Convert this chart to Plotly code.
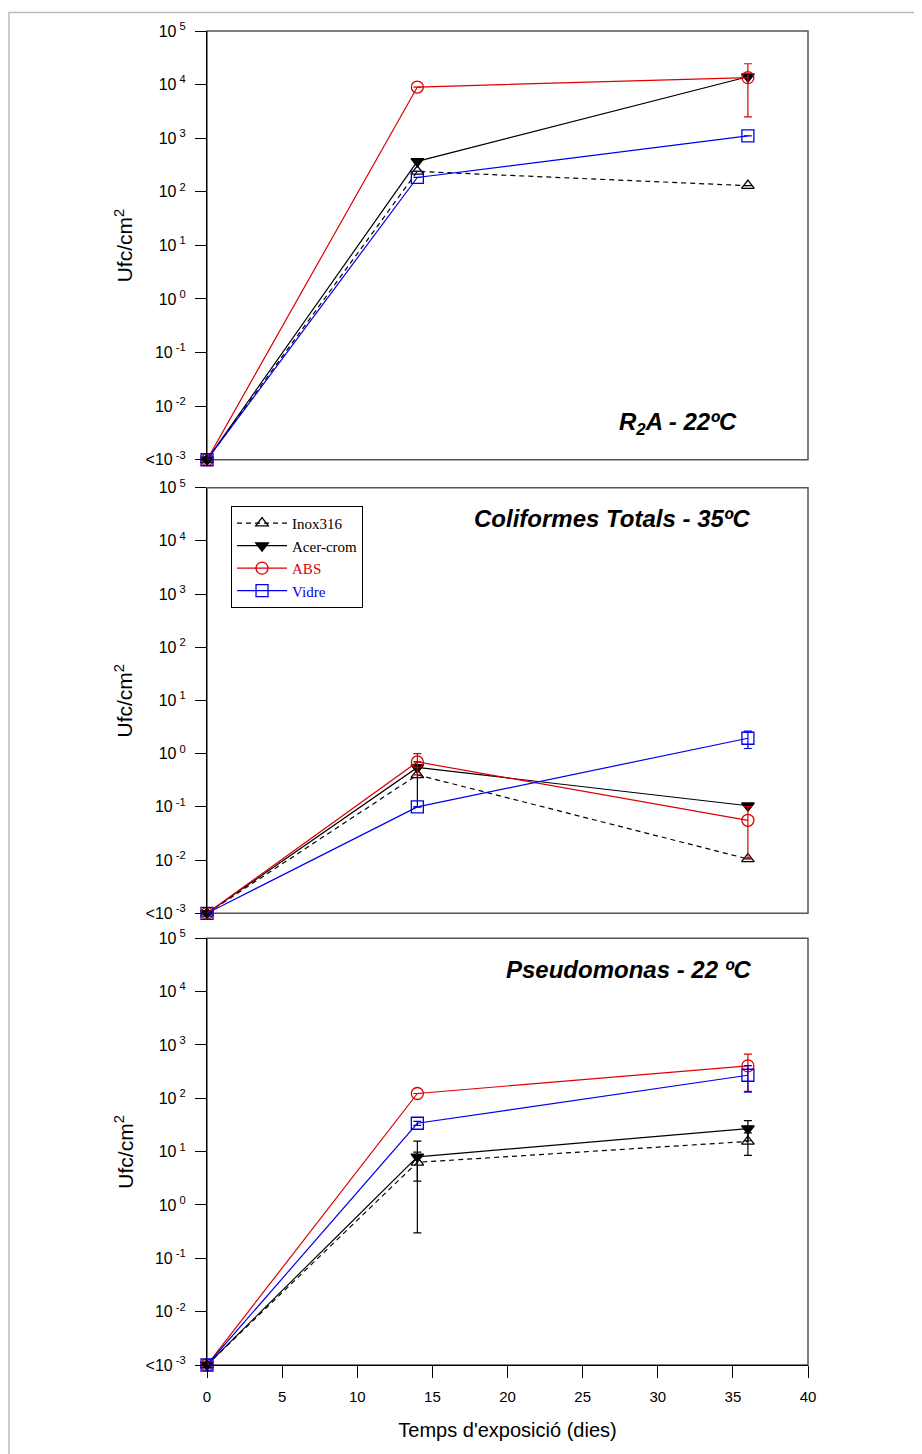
import plotly.graph_objects as go

days = [0, 14, 36]

# R2A - 22ºC
inox_r2a = [1e-3, 240, 130]
acer_r2a = [1e-3, 370, 14000]
abs_r2a = [1e-3, 9000, 13500]
vidre_r2a = [1e-3, 185, 1100]
inox_r2a_err = [0, 0, 0]
acer_r2a_err = [0, 0, 0]
abs_r2a_err = [0, 0, 11000]
vidre_r2a_err = [0, 0, 0]

# Coliformes Totals - 35ºC
inox_col = [1e-3, 0.4, 0.0105]
acer_col = [1e-3, 0.55, 0.105]
abs_col = [1e-3, 0.7, 0.056]
vidre_col = [1e-3, 0.1, 1.95]
inox_col_err = [0, 0.3, 0]
acer_col_err = [0, 0, 0]
abs_col_err = [0, 0.3, 0.045]
vidre_col_err = [0, 0, 0.7]

# Pseudomonas - 22 ºC
inox_ps = [1e-3, 6.3, 15.5]
acer_ps = [1e-3, 8, 27]
abs_ps = [1e-3, 123, 405]
vidre_ps = [1e-3, 34, 270]
inox_ps_err = [0, 3.5, 7]
acer_ps_err = [0, 7.7, 11]
abs_ps_err = [0, 0, 270]
vidre_ps_err = [0, 3, 140]

ytickvals = [1e-3, 1e-2, 1e-1, 1, 10, 100, 1e3, 1e4, 1e5]
yticktext = ["<10<sup> -3</sup>", "10<sup> -2</sup>", "10<sup> -1</sup>", "10<sup> 0</sup>",
             "10<sup> 1</sup>", "10<sup> 2</sup>", "10<sup> 3</sup>", "10<sup> 4</sup>", "10<sup> 5</sup>"]
xtickvals = [0, 5, 10, 15, 20, 25, 30, 35, 40]

RED = "#dd0000"
BLUE = "#0000ee"

series = [
    ("Inox316", "black", "triangle-up-open", "5px,4px", "black"),
    ("Acer-crom", "black", "triangle-down", "solid", "black"),
    ("ABS", RED, "circle-open", "solid", RED),
    ("Vidre", BLUE, "square-open", "solid", BLUE),
]

panels = [
    ([inox_r2a, acer_r2a, abs_r2a, vidre_r2a], [inox_r2a_err, acer_r2a_err, abs_r2a_err, vidre_r2a_err]),
    ([inox_col, acer_col, abs_col, vidre_col], [inox_col_err, acer_col_err, abs_col_err, vidre_col_err]),
    ([inox_ps, acer_ps, abs_ps, vidre_ps], [inox_ps_err, acer_ps_err, abs_ps_err, vidre_ps_err]),
]

fig = go.Figure()

for p, (vals, errs) in enumerate(panels):
    xa = "x" if p == 0 else f"x{p+1}"
    ya = "y" if p == 0 else f"y{p+1}"
    for (name, col, sym, dash, tcol), v, e in zip(series, vals, errs):
        fig.add_trace(go.Scatter(
            x=days, y=v, xaxis=xa, yaxis=ya,
            mode="lines+markers",
            name=f'<span style="color:{tcol}">{name}</span>',
            showlegend=(p == 1),
            line=dict(color=col, width=1.2, dash=dash),
            marker=dict(symbol=sym, size=12 if "circle" in sym or "square" in sym else 11,
                        color=col, line=dict(color=col, width=1.3)),
            error_y=dict(type="data", array=e, visible=True, color=col,
                         thickness=1.2, width=4),
            cliponaxis=False,
        ))

# domains
domains = [[0.6786, 1.0], [0.3386, 0.6577], [0.0, 0.3199]]

SANS = "Liberation Sans, Arial"
xaxis_font = dict(family=SANS, size=15, color="black")
yaxis_font = dict(family=SANS, size=16, color="black")

layout = dict(
    width=914, height=1446,
    paper_bgcolor="white", plot_bgcolor="white",
    margin=dict(l=199, r=114, t=19, b=89),
    showlegend=True,
    legend=dict(x=0.04, y=0.644, xanchor="left", yanchor="top",
                bordercolor="black", borderwidth=1, bgcolor="white",
                font=dict(family="Liberation Serif, Times New Roman", size=15, color="black"),
                tracegroupgap=0, itemwidth=50),
)

for p in range(3):
    xk = "xaxis" if p == 0 else f"xaxis{p+1}"
    yk = "yaxis" if p == 0 else f"yaxis{p+1}"
    ya = "y" if p == 0 else f"y{p+1}"
    bottom = (p == 2)
    layout[xk] = dict(
        domain=[0, 1], range=[0, 40], anchor=ya,
        showgrid=False, zeroline=False,
        showline=bottom, linecolor="black", linewidth=1,
        ticks="outside" if bottom else "", ticklen=12, tickcolor="black",
        tickvals=xtickvals, showticklabels=bottom,
        tickfont=xaxis_font, ticklabelstandoff=6,
    )
    if p > 0:
        layout[xk]["matches"] = "x"
    if bottom:
        layout[xk]["title"] = dict(text="Temps d'exposició (dies)",
                                   font=dict(family=SANS, size=20, color="black"),
                                   standoff=18)
    layout[yk] = dict(
        domain=domains[p], type="log", range=[-3, 5],
        anchor="x" if p == 0 else f"x{p+1}",
        showgrid=False, zeroline=False,
        showline=True, linecolor="black", linewidth=1,
        ticks="outside", ticklen=11, tickcolor="black",
        tickvals=ytickvals, ticktext=yticktext,
        tickfont=yaxis_font, ticklabelstandoff=6,
    )

fig.update_layout(**layout)

shapes = []
for p in range(3):
    d = domains[p]
    shapes.append(dict(type="rect", xref="paper", yref="paper",
                       x0=0, x1=1, y0=d[0], y1=d[1],
                       line=dict(color="#555555", width=1.5), layer="below"))
# outer gray frame
shapes.append(dict(type="rect", xref="paper", yref="paper",
                   x0=(9 - 207) / 601, x1=1.3, y0=-0.2, y1=(1365 - 8.5) / 1338,
                   line=dict(color="#bbbbbb", width=1.5), layer="below"))
fig.update_layout(shapes=shapes)

ann = []
for p in range(3):
    d = domains[p]
    ann.append(dict(text="Ufc/cm<sup>2</sup>", textangle=-90, xref="paper", yref="paper",
                    x=(124 - 207) / 601, y=(d[0] + d[1]) / 2, xanchor="center", yanchor="middle",
                    showarrow=False, font=dict(family=SANS, size=21, color="black")))

title_font = dict(family=SANS, size=24, color="black")
ann.append(dict(text="<b><i>R<sub>2</sub>A - 22ºC</i></b>", xref="paper", yref="paper",
                x=(739 - 207) / 601, y=(1365 - 421) / 1338, xanchor="right", yanchor="middle",
                showarrow=False, font=title_font))
ann.append(dict(text="<b><i>Coliformes Totals - 35ºC</i></b>", xref="paper", yref="paper",
                x=(753 - 207) / 601, y=(1365 - 516) / 1338, xanchor="right", yanchor="middle",
                showarrow=False, font=title_font))
ann.append(dict(text="<b><i>Pseudomonas - 22 ºC</i></b>", xref="paper", yref="paper",
                x=(753 - 207) / 601, y=(1365 - 968) / 1338, xanchor="right", yanchor="middle",
                showarrow=False, font=title_font))
fig.update_layout(annotations=ann)

fig.write_html("out.html")
